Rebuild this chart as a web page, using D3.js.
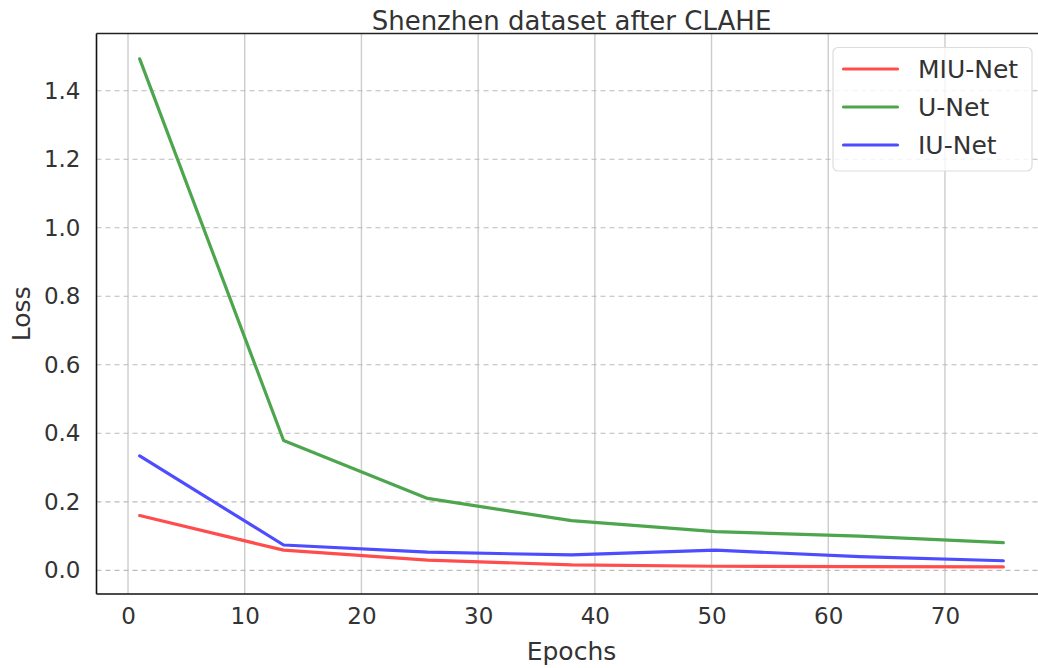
<!DOCTYPE html>
<html>
<head>
<meta charset="utf-8">
<script src="https://cdn.jsdelivr.net/npm/d3@7"></script>
<style>
  body { margin: 0; background: #fff; }
  svg { display: block; font-family: "DejaVu Sans", sans-serif; }
</style>
</head>
<body>
<div id="chart"></div>
<script>
// values
const epochs = [1, 13.33, 25.67, 38, 50.33, 62.67, 75];
const miuNet = [0.160, 0.059, 0.030, 0.016, 0.012, 0.011, 0.010];
const uNet = [1.493, 0.379, 0.210, 0.145, 0.113, 0.100, 0.081];
const iuNet = [0.334, 0.074, 0.053, 0.045, 0.059, 0.040, 0.028];
const xTicks = [0, 10, 20, 30, 40, 50, 60, 70];
const yTicks = [0.0, 0.2, 0.4, 0.6, 0.8, 1.0, 1.2, 1.4];

const series = [
  { name: "MIU-Net", vals: miuNet, color: "rgb(255,77,77)" },
  { name: "U-Net", vals: uNet, color: "rgb(77,166,77)" },
  { name: "IU-Net", vals: iuNet, color: "rgb(77,77,255)" },
];

const W = 1038, H = 668;
const M = { t: 33.5, l: 96.5, r: 1046.5, b: 594 };
const txt = "#333";

const svg = d3.select("#chart").append("svg")
  .attr("width", W).attr("height", H);

const x = d3.scaleLinear().domain([-2.7, 78.7]).range([M.l, M.r]);
const y = d3.scaleLinear().domain([-0.069, 1.567]).range([M.b, M.t]);

// gridlines
svg.append("g").selectAll("line").data(xTicks).join("line")
  .attr("x1", d => x(d)).attr("x2", d => x(d))
  .attr("y1", M.t).attr("y2", M.b)
  .attr("stroke", "#ccc").attr("stroke-width", 1.4);

svg.append("g").selectAll("line").data(yTicks).join("line")
  .attr("x1", M.l).attr("x2", M.r)
  .attr("y1", d => y(d)).attr("y2", d => y(d))
  .attr("stroke", "#bbb").attr("stroke-width", 1.1)
  .attr("stroke-dasharray", "5,4");

// axes (no tick marks, labels only)
const xAxis = svg.append("g")
  .attr("transform", `translate(0,${M.b})`)
  .call(d3.axisBottom(x).tickValues(xTicks).tickSize(0).tickPadding(14).tickFormat(d3.format("d")));
const yAxis = svg.append("g")
  .attr("transform", `translate(${M.l},0)`)
  .call(d3.axisLeft(y).tickValues(yTicks).tickSize(0).tickPadding(16).tickFormat(d3.format(".1f")));

[xAxis, yAxis].forEach(a => {
  a.select(".domain").remove();
  a.selectAll("text").attr("fill", txt).style("font-size", "23px")
    .style("font-family", "DejaVu Sans, sans-serif");
});

// spines
svg.append("line").attr("x1", M.l).attr("x2", M.l).attr("y1", M.t).attr("y2", M.b)
  .attr("stroke", "#111").attr("stroke-width", 1.6);
svg.append("line").attr("x1", M.l).attr("x2", M.r).attr("y1", M.b).attr("y2", M.b)
  .attr("stroke", "#111").attr("stroke-width", 1.6);
svg.append("line").attr("x1", M.l).attr("x2", M.r).attr("y1", M.t).attr("y2", M.t)
  .attr("stroke", "#222").attr("stroke-width", 1.6);

// lines
const line = d3.line().x((d, i) => x(epochs[i])).y(d => y(d));
svg.append("g").selectAll("path").data(series).join("path")
  .attr("d", d => line(d.vals))
  .attr("fill", "none")
  .attr("stroke", d => d.color)
  .attr("stroke-width", 3.2)
  .attr("stroke-linejoin", "round")
  .attr("stroke-linecap", "round");

// title and labels
svg.append("text").attr("x", (M.l + M.r) / 2).attr("y", 29.5)
  .attr("text-anchor", "middle").attr("fill", txt)
  .style("font-size", "26px").text("Shenzhen dataset after CLAHE");

svg.append("text").attr("x", (M.l + M.r) / 2).attr("y", 660)
  .attr("text-anchor", "middle").attr("fill", txt)
  .style("font-size", "25px").text("Epochs");

svg.append("text")
  .attr("transform", `translate(29.5,${(M.t + M.b) / 2}) rotate(-90)`)
  .attr("text-anchor", "middle").attr("fill", txt)
  .style("font-size", "25px").text("Loss");

// legend
const lg = svg.append("g").attr("transform", "translate(833,47.5)");
lg.append("rect").attr("width", 199).attr("height", 123.5).attr("rx", 5)
  .attr("fill", "rgba(255,255,255,0.8)").attr("stroke", "#ddd").attr("stroke-width", 1.2);
const item = lg.selectAll("g").data(series).join("g")
  .attr("transform", (d, i) => `translate(0,${21.5 + i * 38})`);
item.append("line").attr("x1", 10.5).attr("x2", 64.5)
  .attr("stroke", d => d.color).attr("stroke-width", 3.2).attr("stroke-linecap", "round");
item.append("text").attr("x", 85).attr("y", 9).attr("fill", txt)
  .style("font-size", "25px").text(d => d.name);
</script>
</body>
</html>
